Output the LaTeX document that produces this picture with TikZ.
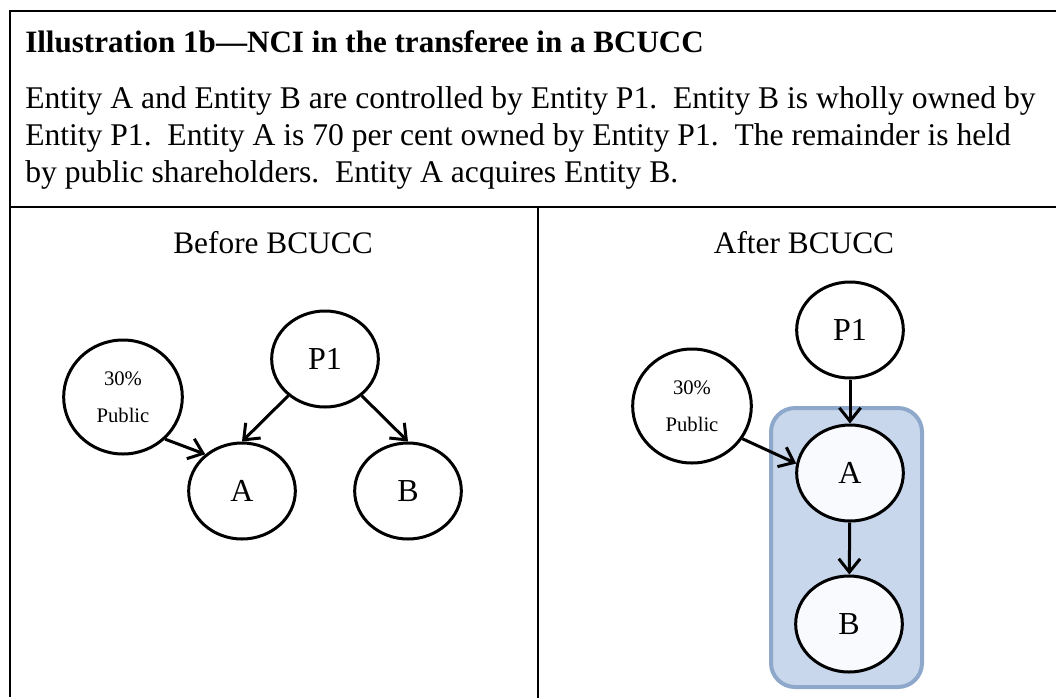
\documentclass[tikz,border=0pt]{standalone}
\usepackage{fontspec}
\setmainfont{Liberation Serif}
\usetikzlibrary{shapes.geometric,arrows.meta}

\definecolor{groupfill}{HTML}{C8D7EB}
\definecolor{groupline}{HTML}{8EA8CB}
\definecolor{paleblue}{HTML}{F8FAFD}
\newcommand{\gap}{\hspace{0.5em}}

\begin{document}
\begin{tikzpicture}[x=0.75pt,y=-0.75pt,
    rule/.style={line width=2.2pt},
    txt/.style={anchor=base west,inner sep=0pt,font=\fontsize{23.7}{28}\selectfont},
    heading/.style={anchor=base,inner sep=0pt,font=\fontsize{23.5}{28}\selectfont},
    entity/.style={ellipse,draw,line width=2.25pt,minimum width=80pt,minimum height=72pt,inner sep=0pt,font=\fontsize{24}{28}\selectfont},
    public/.style={entity,minimum width=89pt,minimum height=85.5pt,align=center,font=\fontsize{15.5}{27.75}\selectfont},
    own/.style={-{Straight Barb[length=10pt,width=16pt]},line width=2.25pt},
    group/.style={draw=groupline,fill=groupfill,line width=3pt,rounded corners=18pt}]
  \useasboundingbox (0,0) rectangle (1056,697);

  % frame of the table
  \draw[rule] (10,697) -- (10,11) -- (1060,11);
  \draw[rule] (10,207) -- (1060,207);
  \draw[line width=1.9pt] (538,207) -- (538,700);

  % header
  \node[txt,font=\fontsize{23.3}{28}\selectfont\bfseries] (title) at (25,52) {Illustration 1b—NCI in the transferee in a BCUCC};
  \node[txt] (line1) at (25,108) {Entity A and Entity B are controlled by Entity P1.\gap Entity B is wholly owned by};
  \node[txt] (line2) at (25,145) {Entity P1.\gap Entity A is 70 per cent owned by Entity P1.\gap The remainder is held};
  \node[txt] (line3) at (25,182) {by public shareholders.\gap Entity A acquires Entity B.};

  % before
  \node[heading] (before) at (273,253) {Before BCUCC};
  \node[public] (pub1) at (123,397) {30\%\\Public};
  \node[entity] (p1) at (325,359) {P1};
  \node[entity] (a1) at (242,491) {A};
  \node[entity] (b1) at (408,491) {B};
  \draw[own] (p1.225) -- (a1.north);
  \draw[own] (p1.-45) -- (b1.north);
  \draw[own] (pub1.-45) -- (a1.135);

  % after
  \node[heading] (after) at (804,253) {After BCUCC};
  \draw[group] (771,408) rectangle (922,687);
  \node[public] (pub2) at (692,406) {30\%\\Public};
  \node[entity] (p2) at (850,330) {P1};
  \node[entity,fill=paleblue] (a2) at (850,473) {A};
  \node[entity,fill=paleblue] (b2) at (849,624) {B};
  \draw[own] (p2) -- (a2);
  \draw[own] (a2) -- (b2);
  \draw[own] (pub2.-33) -- (a2.170);
\end{tikzpicture}
\end{document}
